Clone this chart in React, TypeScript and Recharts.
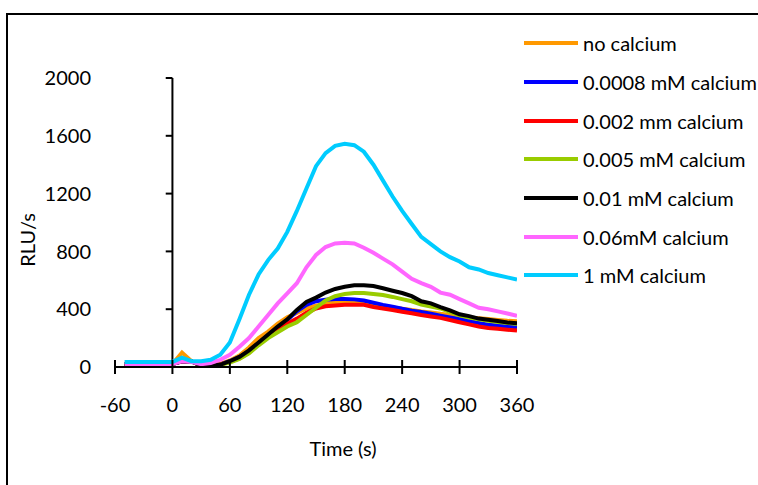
import React from 'react';
import { LineChart, Line, XAxis, YAxis, ReferenceLine, Legend } from 'recharts';

const times = [-50, -40, -30, -20, -10, 0, 10, 20, 30, 40, 50, 60, 70, 80, 90, 100, 110, 120, 130, 140, 150, 160, 170, 180, 190, 200, 210, 220, 230, 240, 250, 260, 270, 280, 290, 300, 310, 320, 330, 340, 350, 360];

const noCalcium = [20, 20, 20, 20, 20, 20, 100, 40, 12, 15, 22, 45, 80, 135, 200, 245, 300, 345, 375, 405, 425, 440, 445, 445, 445, 440, 430, 422, 412, 403, 395, 385, 378, 368, 360, 352, 343, 337, 332, 326, 320, 316];
const mM00008 = [20, 20, 20, 20, 20, 20, 40, 38, 10, 12, 18, 40, 70, 110, 165, 220, 275, 325, 385, 430, 455, 465, 470, 470, 468, 460, 445, 430, 418, 403, 390, 380, 368, 355, 342, 330, 318, 305, 293, 287, 280, 275];
const mm0002 = [20, 20, 20, 20, 20, 20, 40, 38, 10, 12, 18, 35, 60, 100, 160, 215, 260, 300, 335, 375, 405, 420, 425, 430, 430, 430, 415, 405, 395, 382, 372, 360, 350, 340, 325, 310, 295, 280, 270, 265, 258, 252];
const mM0005 = [20, 20, 20, 20, 20, 20, 45, 38, 8, 10, 15, 30, 55, 95, 150, 200, 240, 280, 310, 360, 410, 460, 490, 505, 512, 512, 505, 498, 485, 470, 455, 432, 418, 405, 382, 358, 342, 330, 320, 312, 305, 298];
const mM001 = [20, 20, 20, 20, 20, 20, 40, 38, 8, 10, 15, 40, 70, 115, 170, 225, 280, 330, 395, 450, 480, 515, 540, 555, 565, 565, 560, 545, 528, 512, 490, 455, 440, 415, 392, 365, 352, 335, 327, 318, 308, 303];
const mM006 = [20, 20, 20, 20, 20, 20, 40, 35, 20, 28, 50, 85, 140, 200, 280, 360, 440, 510, 580, 690, 775, 830, 855, 860, 855, 825, 790, 750, 710, 660, 610, 580, 555, 515, 500, 470, 440, 410, 400, 385, 370, 355];
const mM1 = [35, 35, 35, 35, 35, 35, 65, 40, 40, 50, 85, 170, 330, 500, 640, 740, 820, 935, 1080, 1235, 1390, 1480, 1530, 1545, 1535, 1490, 1400, 1290, 1180, 1080, 990, 900, 850, 800, 760, 730, 690, 675, 650, 635, 620, 605];

const xTicks = [-60, 0, 60, 120, 180, 240, 300, 360];
const yTicks = [0, 400, 800, 1200, 1600, 2000];

const seriesNames = ['no calcium', '0.0008 mM calcium', '0.002 mm calcium', '0.005 mM calcium', '0.01 mM calcium', '0.06mM calcium', '1 mM calcium'];
const seriesKeys = ['s0', 's1', 's2', 's3', 's4', 's5', 's6'];
const seriesColors = ['#FF9900', '#0000FF', '#FF0000', '#99CC00', '#000000', '#FF66FF', '#00CCFF'];
const seriesValues = [noCalcium, mM00008, mm0002, mM0005, mM001, mM006, mM1];

const data = times.map((t, i) => {
  const row: Record<string, number> = { t };
  seriesKeys.forEach((k, j) => {
    row[k] = seriesValues[j][i];
  });
  return row;
});

const FONT = 'Lato, "Open Sans", sans-serif';
const FS = 20;
const X_TICK_MARGIN = 31;

const XTick = (props: any) => {
  const { x, y, payload } = props;
  const axisY = y - X_TICK_MARGIN;
  return (
    <g>
      <line x1={x} x2={x} y1={axisY - 7} y2={axisY + 7} stroke="#000" strokeWidth={2} />
      <text x={x} y={y} dy="0.71em" textAnchor="middle" fill="#000" fontFamily={FONT} fontSize={FS}>
        {payload.value}
      </text>
    </g>
  );
};

const renderLegend = () => (
  <div style={{ fontFamily: FONT, fontSize: FS, color: '#000' }}>
    {seriesNames.map((name, j) => (
      <div key={name} style={{ display: 'flex', alignItems: 'center', height: 38.7, whiteSpace: 'nowrap' }}>
        <span style={{ display: 'inline-block', width: 54, height: 4, background: seriesColors[j], marginRight: 5 }} />
        <span>{name}</span>
      </div>
    ))}
  </div>
);

export default function App() {
  return (
    <div style={{ position: 'fixed', left: 0, top: 0, width: 758, height: 485, overflow: 'hidden', background: '#fff' }}>
      <div style={{ position: 'absolute', left: 6, top: 13, width: 900, height: 900, borderLeft: '2px solid #000', borderTop: '2px solid #000' }} />
      <div style={{ position: 'absolute', left: 0, top: 0 }}>
        <LineChart width={758} height={485} data={data} margin={{ top: 78, right: 241, left: 55, bottom: 58 }}>
          <XAxis
            dataKey="t"
            type="number"
            domain={[-60, 360]}
            ticks={xTicks}
            allowDataOverflow
            height={60}
            axisLine={{ stroke: '#000', strokeWidth: 2 }}
            tickLine={false}
            tickSize={0}
            tickMargin={X_TICK_MARGIN}
            tick={<XTick />}
            interval={0}
            label={{
              content: () => (
                <text x={343} y={451} textAnchor="middle" dominantBaseline="middle" fontFamily={FONT} fontSize={FS} fill="#000">
                  Time (s)
                </text>
              ),
            }}
          />
          <YAxis
            type="number"
            domain={[0, 2000]}
            ticks={yTicks}
            width={60}
            axisLine={false}
            tickLine={false}
            tickSize={0}
            tickMargin={24}
            interval={0}
            tick={{ fill: '#000', fontFamily: FONT, fontSize: FS }}
            label={{
              content: () => (
                <text x={30} y={240} transform="rotate(-90 30 240)" textAnchor="middle" dominantBaseline="middle" fontFamily={FONT} fontSize={FS} fill="#000">
                  RLU/s
                </text>
              ),
            }}
          />
          <ReferenceLine segment={[{ x: 0, y: 0 }, { x: 0, y: 2000 }]} stroke="#000" strokeWidth={2} />
          {yTicks.map((v) => (
            <ReferenceLine key={v} segment={[{ x: -7, y: v }, { x: 0, y: v }]} stroke="#000" strokeWidth={2} />
          ))}
          <Legend
            layout="vertical"
            align="center"
            verticalAlign="middle"
            content={renderLegend}
            wrapperStyle={{ left: 524, top: 24, width: 240 }}
          />
          {seriesKeys.map((k, j) => (
            <Line
              key={k}
              dataKey={k}
              name={seriesNames[j]}
              stroke={seriesColors[j]}
              strokeWidth={4}
              dot={false}
              activeDot={false}
              type="linear"
              isAnimationActive={false}
            />
          ))}
        </LineChart>
      </div>
    </div>
  );
}
